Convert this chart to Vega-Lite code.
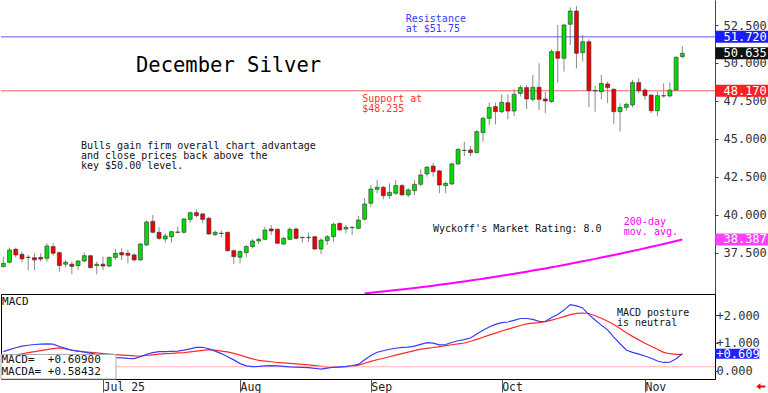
{
"$schema":"https://vega.github.io/schema/vega-lite/v6.json",
"padding":0,
"background":"white",
"bounds":"flush",
"config":{"view":{"stroke":null},"text":{"font":"DejaVu Sans Mono"},"axis":{"labelFont":"DejaVu Sans Mono"}},
"spacing":0,
"datasets":{"c":[
{"i":0,"o":36.60,"h":37.26,"l":36.56,"c":36.82,"m":0.687,"s":0.489},
{"i":1,"o":36.89,"h":37.85,"l":36.82,"c":37.70,"m":0.759,"s":0.529},
{"i":2,"o":37.74,"h":37.85,"l":37.19,"c":37.37,"m":0.824,"s":0.568},
{"i":3,"o":37.41,"h":37.59,"l":36.89,"c":37.11,"m":0.885,"s":0.608},
{"i":4,"o":37.22,"h":37.37,"l":36.38,"c":37.20,"m":0.914,"s":0.647},
{"i":5,"o":37.19,"h":37.48,"l":36.38,"c":37.04,"m":0.942,"s":0.683},
{"i":6,"o":37.21,"h":37.48,"l":36.93,"c":37.10,"m":0.957,"s":0.719},
{"i":7,"o":37.15,"h":38.14,"l":36.93,"c":37.96,"m":0.968,"s":0.755},
{"i":8,"o":37.92,"h":38.14,"l":37.32,"c":37.48,"m":0.953,"s":0.795},
{"i":9,"o":37.52,"h":37.59,"l":36.27,"c":36.67,"m":0.871,"s":0.817},
{"i":10,"o":36.76,"h":37.04,"l":36.56,"c":36.89,"m":0.802,"s":0.781},
{"i":11,"o":36.76,"h":36.93,"l":36.10,"c":36.62,"m":0.734,"s":0.741},
{"i":12,"o":36.67,"h":37.04,"l":36.38,"c":36.97,"m":0.701,"s":0.705},
{"i":13,"o":36.97,"h":37.52,"l":36.89,"c":37.32,"m":0.669,"s":0.680},
{"i":14,"o":37.32,"h":37.37,"l":36.49,"c":36.53,"m":0.629,"s":0.658},
{"i":15,"o":36.67,"h":36.93,"l":36.10,"c":36.76,"m":0.583,"s":0.637},
{"i":16,"o":36.76,"h":37.26,"l":36.38,"c":36.64,"m":0.540,"s":0.615},
{"i":17,"o":36.64,"h":37.26,"l":36.56,"c":37.21,"m":0.507,"s":0.594},
{"i":18,"o":37.21,"h":37.76,"l":37.04,"c":37.48,"m":0.471,"s":0.576},
{"i":19,"o":37.52,"h":37.81,"l":37.04,"c":37.37,"m":0.457,"s":0.561},
{"i":20,"o":37.48,"h":37.70,"l":36.82,"c":37.35,"m":0.442,"s":0.547},
{"i":21,"o":37.37,"h":37.48,"l":36.93,"c":37.04,"m":0.432,"s":0.532},
{"i":22,"o":37.04,"h":38.14,"l":36.99,"c":38.09,"m":0.500,"s":0.525},
{"i":23,"o":38.03,"h":39.63,"l":37.96,"c":39.54,"m":0.590,"s":0.550},
{"i":24,"o":39.58,"h":40.00,"l":38.79,"c":38.86,"m":0.651,"s":0.572},
{"i":25,"o":38.86,"h":39.19,"l":38.35,"c":38.46,"m":0.683,"s":0.597},
{"i":26,"o":38.42,"h":38.79,"l":38.18,"c":38.62,"m":0.687,"s":0.612},
{"i":27,"o":38.57,"h":38.97,"l":38.18,"c":38.90,"m":0.694,"s":0.622},
{"i":28,"o":38.88,"h":39.23,"l":38.79,"c":38.86,"m":0.701,"s":0.637},
{"i":29,"o":38.86,"h":39.78,"l":38.79,"c":39.74,"m":0.737,"s":0.651},
{"i":30,"o":39.71,"h":40.22,"l":39.50,"c":40.15,"m":0.784,"s":0.676},
{"i":31,"o":40.15,"h":40.37,"l":39.85,"c":39.96,"m":0.835,"s":0.705},
{"i":32,"o":40.07,"h":40.11,"l":39.45,"c":39.71,"m":0.842,"s":0.730},
{"i":33,"o":39.78,"h":39.89,"l":38.68,"c":38.75,"m":0.788,"s":0.759},
{"i":34,"o":38.71,"h":38.97,"l":38.62,"c":38.86,"m":0.705,"s":0.737},
{"i":35,"o":38.78,"h":38.97,"l":38.53,"c":38.80,"m":0.615,"s":0.705},
{"i":36,"o":38.86,"h":38.90,"l":37.59,"c":37.65,"m":0.504,"s":0.676},
{"i":37,"o":37.65,"h":37.74,"l":36.78,"c":37.26,"m":0.388,"s":0.622},
{"i":38,"o":37.22,"h":37.70,"l":36.82,"c":37.59,"m":0.255,"s":0.558},
{"i":39,"o":37.52,"h":38.03,"l":37.22,"c":37.92,"m":0.173,"s":0.489},
{"i":40,"o":37.92,"h":38.40,"l":37.81,"c":38.29,"m":0.144,"s":0.424},
{"i":41,"o":38.29,"h":38.53,"l":38.09,"c":38.40,"m":0.155,"s":0.371},
{"i":42,"o":38.40,"h":39.23,"l":38.35,"c":39.01,"m":0.173,"s":0.345},
{"i":43,"o":39.08,"h":39.34,"l":38.68,"c":38.95,"m":0.183,"s":0.320},
{"i":44,"o":39.06,"h":39.12,"l":38.09,"c":38.14,"m":0.169,"s":0.295},
{"i":45,"o":38.09,"h":38.57,"l":38.03,"c":38.46,"m":0.158,"s":0.277},
{"i":46,"o":38.40,"h":39.17,"l":38.35,"c":39.06,"m":0.140,"s":0.259},
{"i":47,"o":39.08,"h":39.17,"l":38.40,"c":38.46,"m":0.129,"s":0.245},
{"i":48,"o":38.53,"h":38.57,"l":38.18,"c":38.51,"m":0.119,"s":0.227},
{"i":49,"o":38.51,"h":38.84,"l":38.25,"c":38.53,"m":0.108,"s":0.205},
{"i":50,"o":38.57,"h":38.62,"l":37.70,"c":37.76,"m":0.086,"s":0.180},
{"i":51,"o":37.76,"h":38.46,"l":37.43,"c":38.35,"m":0.058,"s":0.155},
{"i":52,"o":38.31,"h":38.68,"l":38.03,"c":38.57,"m":0.094,"s":0.133},
{"i":53,"o":38.57,"h":39.50,"l":38.25,"c":39.39,"m":0.122,"s":0.129},
{"i":54,"o":39.45,"h":39.50,"l":38.97,"c":39.01,"m":0.137,"s":0.129},
{"i":55,"o":39.08,"h":39.34,"l":38.79,"c":39.19,"m":0.155,"s":0.144},
{"i":56,"o":39.19,"h":39.23,"l":38.68,"c":39.17,"m":0.187,"s":0.155},
{"i":57,"o":39.12,"h":39.94,"l":39.06,"c":39.67,"m":0.227,"s":0.201},
{"i":58,"o":39.72,"h":41.10,"l":39.63,"c":40.72,"m":0.396,"s":0.266,"ma":34.84},
{"i":59,"o":40.77,"h":41.97,"l":40.55,"c":41.71,"m":0.543,"s":0.335,"ma":34.885},
{"i":60,"o":41.69,"h":42.30,"l":41.43,"c":41.82,"m":0.662,"s":0.392,"ma":34.926},
{"i":61,"o":41.82,"h":41.91,"l":41.03,"c":41.27,"m":0.716,"s":0.446,"ma":34.968},
{"i":62,"o":41.27,"h":42.08,"l":41.05,"c":41.49,"m":0.770,"s":0.500,"ma":35.012},
{"i":63,"o":41.43,"h":42.30,"l":41.32,"c":41.93,"m":0.806,"s":0.558,"ma":35.057},
{"i":64,"o":41.93,"h":42.04,"l":41.27,"c":41.32,"m":0.835,"s":0.612,"ma":35.103},
{"i":65,"o":41.32,"h":41.76,"l":41.16,"c":41.65,"m":0.849,"s":0.669,"ma":35.150},
{"i":66,"o":41.60,"h":42.30,"l":41.32,"c":42.02,"m":0.885,"s":0.723,"ma":35.198},
{"i":67,"o":42.02,"h":43.00,"l":41.91,"c":42.63,"m":0.946,"s":0.773,"ma":35.248},
{"i":68,"o":42.70,"h":43.22,"l":42.52,"c":43.14,"m":1.007,"s":0.802,"ma":35.299},
{"i":69,"o":43.22,"h":43.44,"l":42.52,"c":42.85,"m":0.989,"s":0.835,"ma":35.350},
{"i":70,"o":42.90,"h":42.96,"l":41.43,"c":41.97,"m":0.932,"s":0.867,"ma":35.403},
{"i":71,"o":41.93,"h":42.19,"l":41.43,"c":42.08,"m":0.942,"s":0.899,"ma":35.458},
{"i":72,"o":42.04,"h":43.44,"l":41.97,"c":43.36,"m":1.014,"s":0.932,"ma":35.513},
{"i":73,"o":43.36,"h":44.39,"l":43.29,"c":44.32,"m":1.076,"s":0.964,"ma":35.570},
{"i":74,"o":44.26,"h":44.82,"l":43.88,"c":44.24,"m":1.115,"s":0.996,"ma":35.627},
{"i":75,"o":44.28,"h":44.54,"l":43.88,"c":44.10,"m":1.176,"s":1.058,"ma":35.686},
{"i":76,"o":44.10,"h":45.59,"l":44.06,"c":45.48,"m":1.324,"s":1.129,"ma":35.746},
{"i":77,"o":45.42,"h":46.47,"l":44.82,"c":46.36,"m":1.453,"s":1.205,"ma":35.808},
{"i":78,"o":46.36,"h":47.39,"l":45.92,"c":47.08,"m":1.572,"s":1.277,"ma":35.870},
{"i":79,"o":47.13,"h":47.39,"l":45.96,"c":46.80,"m":1.665,"s":1.353,"ma":35.934},
{"i":80,"o":46.80,"h":47.94,"l":46.69,"c":47.41,"m":1.730,"s":1.428,"ma":35.999},
{"i":81,"o":47.39,"h":47.94,"l":46.30,"c":46.84,"m":1.752,"s":1.496,"ma":36.065},
{"i":82,"o":46.84,"h":48.27,"l":46.51,"c":47.94,"m":1.813,"s":1.561,"ma":36.132},
{"i":83,"o":48.00,"h":48.55,"l":47.79,"c":48.38,"m":1.878,"s":1.626,"ma":36.200},
{"i":84,"o":48.38,"h":48.55,"l":46.97,"c":47.63,"m":1.878,"s":1.687,"ma":36.269},
{"i":85,"o":47.61,"h":49.21,"l":47.46,"c":48.40,"m":1.845,"s":1.709,"ma":36.340},
{"i":86,"o":48.40,"h":49.98,"l":46.91,"c":47.61,"m":1.773,"s":1.730,"ma":36.412},
{"i":87,"o":47.63,"h":48.11,"l":46.69,"c":47.50,"m":1.770,"s":1.763,"ma":36.485},
{"i":88,"o":47.46,"h":50.90,"l":47.39,"c":50.75,"m":1.914,"s":1.820,"ma":36.559},
{"i":89,"o":50.75,"h":52.50,"l":48.71,"c":50.31,"m":2.022,"s":1.878,"ma":36.635},
{"i":90,"o":50.31,"h":52.56,"l":49.43,"c":52.50,"m":2.180,"s":1.946,"ma":36.711},
{"i":91,"o":52.55,"h":53.66,"l":51.18,"c":53.42,"m":2.378,"s":2.018,"ma":36.789},
{"i":92,"o":53.42,"h":53.75,"l":49.65,"c":50.64,"m":2.331,"s":2.061,"ma":36.868},
{"i":93,"o":50.68,"h":51.84,"l":50.09,"c":51.40,"m":2.259,"s":2.076,"ma":36.948},
{"i":94,"o":51.40,"h":51.56,"l":47.08,"c":48.18,"m":2.018,"s":2.058,"ma":37.029},
{"i":95,"o":48.16,"h":48.49,"l":46.80,"c":48.19,"m":1.824,"s":1.975,"ma":37.111},
{"i":96,"o":48.11,"h":49.21,"l":47.61,"c":48.66,"m":1.640,"s":1.888,"ma":37.195},
{"i":97,"o":48.62,"h":48.77,"l":47.35,"c":48.38,"m":1.468,"s":1.777,"ma":37.280},
{"i":98,"o":48.27,"h":48.33,"l":45.99,"c":46.80,"m":1.209,"s":1.665,"ma":37.365},
{"i":99,"o":46.80,"h":47.35,"l":45.48,"c":47.08,"m":0.968,"s":1.518,"ma":37.453},
{"i":100,"o":47.08,"h":47.39,"l":46.86,"c":47.28,"m":0.745,"s":1.367,"ma":37.541},
{"i":101,"o":47.24,"h":48.88,"l":47.08,"c":48.71,"m":0.658,"s":1.234,"ma":37.630},
{"i":102,"o":48.71,"h":48.99,"l":48.00,"c":48.18,"m":0.597,"s":1.108,"ma":37.721},
{"i":103,"o":48.22,"h":48.33,"l":47.57,"c":47.85,"m":0.529,"s":0.989,"ma":37.813},
{"i":104,"o":47.89,"h":47.94,"l":46.69,"c":46.86,"m":0.446,"s":0.878,"ma":37.906},
{"i":105,"o":46.86,"h":48.11,"l":46.51,"c":47.85,"m":0.349,"s":0.770,"ma":38.000},
{"i":106,"o":47.85,"h":48.66,"l":47.72,"c":47.83,"m":0.295,"s":0.660,"ma":38.095},
{"i":107,"o":47.83,"h":48.71,"l":47.74,"c":48.22,"m":0.302,"s":0.610,"ma":38.191},
{"i":108,"o":48.22,"h":50.46,"l":48.16,"c":50.37,"m":0.432,"s":0.590,"ma":38.289},
{"i":109,"o":50.42,"h":51.12,"l":50.31,"c":50.635,"m":0.609,"s":0.584,"ma":38.387}
]},
"vconcat":[
{
"width":714,"height":294,
"view":{"stroke":null},
"data":{"name":"c"},
"layer":[
{"mark":{"type":"rule","color":"#8a8a8a","strokeWidth":1,"clip":true},
 "encoding":{
  "x":{"field":"i","type":"quantitative","scale":{"domain":[-0.37,114.24],"nice":false,"zero":false,"padding":0},"axis":null,"title":null},
  "y":{"field":"l","type":"quantitative","scale":{"domain":[34.8,54.145],"nice":false,"zero":false,"padding":0},"title":null,
   "axis":{"orient":"right","values":[37.5,40,42.5,45,47.5,50,52.5],"format":".3f","tickSize":3,"tickColor":"#444","domainColor":"#444","labelPadding":5,"labelFontSize":12,"labelColor":"#333","grid":false,"labelOverlap":false,"labelFlush":false,"title":null}},
  "y2":{"field":"h"}}},
{"data":{"values":[{}]},"mark":{"type":"rule","color":"#5a5aff","strokeWidth":1},"encoding":{"y":{"datum":51.72,"type":"quantitative","scale":{"domain":[34.8,54.145],"nice":false,"zero":false,"padding":0},"title":null}}},
{"data":{"values":[{}]},"mark":{"type":"rule","color":"#ff6060","strokeWidth":1},"encoding":{"y":{"datum":48.17,"type":"quantitative","scale":{"domain":[34.8,54.145],"nice":false,"zero":false,"padding":0},"title":null}}},
{"mark":{"type":"bar","size":4,"stroke":"#333","strokeWidth":0.6,"clip":true},
 "encoding":{
  "x":{"field":"i","type":"quantitative","scale":{"domain":[-0.37,114.24],"nice":false,"zero":false,"padding":0},"title":null},
  "y":{"field":"o","type":"quantitative","scale":{"domain":[34.8,54.145],"nice":false,"zero":false,"padding":0},"title":null},
  "y2":{"field":"c"},
  "color":{"condition":{"test":"datum.c >= datum.o","value":"#00dd00"},"value":"#ee0000"}}},
{"transform":[{"filter":"isValid(datum.ma)"}],"mark":{"type":"line","color":"#ff00ff","strokeWidth":2,"clip":true},
 "encoding":{"x":{"field":"i","type":"quantitative","scale":{"domain":[-0.37,114.24],"nice":false,"zero":false,"padding":0},"title":null},"y":{"field":"ma","type":"quantitative","scale":{"domain":[34.8,54.145],"nice":false,"zero":false,"padding":0},"title":null}}},
{"data":{"values":[{"i":21.3,"p":49.8,"t":"December Silver"}]},
 "mark":{"type":"text","align":"left","baseline":"middle","fontSize":20.5,"color":"#000"},
 "encoding":{"x":{"field":"i","type":"quantitative","scale":{"domain":[-0.37,114.24],"nice":false,"zero":false,"padding":0},"title":null},"y":{"field":"p","type":"quantitative","scale":{"domain":[34.8,54.145],"nice":false,"zero":false,"padding":0},"title":null},"text":{"field":"t"}}},
{"data":{"values":[
  {"i":12.47,"p":44.57,"t":"Bulls gain firm overall chart advantage"},
  {"i":12.47,"p":43.88,"t":"and close prices back above the"},
  {"i":12.47,"p":43.19,"t":"key $50.00 level."},
  {"i":68.97,"p":39.08,"t":"Wyckoff's Market Rating: 8.0"}]},
 "mark":{"type":"text","align":"left","baseline":"middle","fontSize":10,"color":"#111"},
 "encoding":{"x":{"field":"i","type":"quantitative","scale":{"domain":[-0.37,114.24],"nice":false,"zero":false,"padding":0},"title":null},"y":{"field":"p","type":"quantitative","scale":{"domain":[34.8,54.145],"nice":false,"zero":false,"padding":0},"title":null},"text":{"field":"t"}}},
{"data":{"values":[{"i":64.6,"p":52.91,"t":"Resistance"},{"i":64.6,"p":52.22,"t":"at $51.75"}]},
 "mark":{"type":"text","align":"left","baseline":"middle","fontSize":10,"color":"#2f3cff"},
 "encoding":{"x":{"field":"i","type":"quantitative","scale":{"domain":[-0.37,114.24],"nice":false,"zero":false,"padding":0},"title":null},"y":{"field":"p","type":"quantitative","scale":{"domain":[34.8,54.145],"nice":false,"zero":false,"padding":0},"title":null},"text":{"field":"t"}}},
{"data":{"values":[{"i":57.6,"p":47.65,"t":"Support at"},{"i":57.6,"p":46.96,"t":"$48.235"}]},
 "mark":{"type":"text","align":"left","baseline":"middle","fontSize":10,"color":"#ff3030"},
 "encoding":{"x":{"field":"i","type":"quantitative","scale":{"domain":[-0.37,114.24],"nice":false,"zero":false,"padding":0},"title":null},"y":{"field":"p","type":"quantitative","scale":{"domain":[34.8,54.145],"nice":false,"zero":false,"padding":0},"title":null},"text":{"field":"t"}}},
{"data":{"values":[{"i":99.6,"p":39.56,"t":"200-day"},{"i":99.6,"p":38.87,"t":"mov. avg."}]},
 "mark":{"type":"text","align":"left","baseline":"middle","fontSize":10,"color":"#ff00ff"},
 "encoding":{"x":{"field":"i","type":"quantitative","scale":{"domain":[-0.37,114.24],"nice":false,"zero":false,"padding":0},"title":null},"y":{"field":"p","type":"quantitative","scale":{"domain":[34.8,54.145],"nice":false,"zero":false,"padding":0},"title":null},"text":{"field":"t"}}},
{"data":{"values":[{"v":51.72,"lab":"51.720","kind":"resistance"},{"v":50.635,"lab":"50.635","kind":"last"},{"v":48.17,"lab":"48.170","kind":"support"},{"v":38.387,"lab":"38.387","kind":"average"}]},
 "mark":{"type":"bar","size":12,"clip":false},
 "encoding":{"x":{"datum":114.3,"type":"quantitative","scale":{"domain":[-0.37,114.24],"nice":false,"zero":false,"padding":0},"title":null},"x2":{"datum":122.9},"y":{"field":"v","type":"quantitative","scale":{"domain":[34.8,54.145],"nice":false,"zero":false,"padding":0},"title":null},
  "color":{"field":"kind","type":"nominal","legend":null,"scale":{"domain":["resistance","last","support","average"],"range":["#1c1cff","#111111","#ff2020","#ff40ff"]}}}},
{"data":{"values":[{"v":51.72,"lab":"51.720"},{"v":50.635,"lab":"50.635"},{"v":48.17,"lab":"48.170"},{"v":38.387,"lab":"38.387"}]},
 "mark":{"type":"text","align":"left","baseline":"middle","fontSize":12,"color":"#ffffff","clip":false},
 "encoding":{"x":{"datum":115.6,"type":"quantitative","scale":{"domain":[-0.37,114.24],"nice":false,"zero":false,"padding":0},"title":null},"y":{"field":"v","type":"quantitative","scale":{"domain":[34.8,54.145],"nice":false,"zero":false,"padding":0},"title":null},"text":{"field":"lab"}}}
]
},
{
"width":714,"height":85,
"view":{"stroke":"#000","strokeWidth":1},
"data":{"name":"c"},
"layer":[
{"mark":{"type":"line","color":"#ff2a2a","strokeWidth":1.2,"clip":true},
 "encoding":{
  "x":{"field":"i","type":"quantitative","scale":{"domain":[-0.37,114.24],"nice":false,"zero":false,"padding":0},"title":null,
   "axis":{"orient":"bottom","values":[16,38,59,80,103],"labelExpr":"datum.value==16?'Jul 25':datum.value==38?'Aug':datum.value==59?'Sep':datum.value==80?'Oct':'Nov'","tickSize":13,"tickColor":"#555","labelAlign":"left","labelBaseline":"top","labelPadding":-11,"labelDx":2,"labelFontSize":11.5,"labelColor":"#222","domain":false,"grid":false,"labelFlush":false,"labelOverlap":false,"title":null}},
  "y":{"field":"s","type":"quantitative","scale":{"domain":[-0.3,2.76],"nice":false,"zero":false,"padding":0},"title":null,
   "axis":{"orient":"right","values":[0,1,2],"labelExpr":"datum.value==0?'\u20070.000':'+'+format(datum.value,'.3f')","tickSize":3,"tickColor":"#444","labelPadding":-2,"labelFontSize":12,"labelColor":"#333","domain":false,"grid":false,"labelOverlap":false,"labelFlush":false,"title":null}}}},
{"data":{"values":[{}]},"mark":{"type":"rule","color":"#ffb0b0","strokeWidth":1},"encoding":{"y":{"datum":0.14,"type":"quantitative","scale":{"domain":[-0.3,2.76],"nice":false,"zero":false,"padding":0},"title":null}}},
{"mark":{"type":"line","color":"#3a3aff","strokeWidth":1.2,"clip":true},
 "encoding":{"x":{"field":"i","type":"quantitative","scale":{"domain":[-0.37,114.24],"nice":false,"zero":false,"padding":0},"title":null},"y":{"field":"m","type":"quantitative","scale":{"domain":[-0.3,2.76],"nice":false,"zero":false,"padding":0},"title":null}}},
{"data":{"values":[{}]},"mark":{"type":"rect","fill":"#ffffff","stroke":"#aaaaaa","strokeWidth":1},
 "encoding":{"x":{"datum":-0.37,"type":"quantitative","scale":{"domain":[-0.37,114.24],"nice":false,"zero":false,"padding":0},"title":null},"x2":{"datum":18.09},"y":{"datum":0.583,"type":"quantitative","scale":{"domain":[-0.3,2.76],"nice":false,"zero":false,"padding":0},"title":null},"y2":{"datum":-0.3}}},
{"data":{"values":[{"i":-0.3,"v":0.392,"t":"MACD=\u00a0\u00a0+0.60900"},{"i":-0.3,"v":-0.03,"t":"MACDA=\u00a0+0.58432"},{"i":-0.2,"v":2.48,"t":"MACD"}]},
 "mark":{"type":"text","align":"left","baseline":"middle","fontSize":11,"color":"#111"},
 "encoding":{"x":{"field":"i","type":"quantitative","scale":{"domain":[-0.37,114.24],"nice":false,"zero":false,"padding":0},"title":null},"y":{"field":"v","type":"quantitative","scale":{"domain":[-0.3,2.76],"nice":false,"zero":false,"padding":0},"title":null},"text":{"field":"t"}}},
{"data":{"values":[{"i":98.5,"v":2.077,"t":"MACD posture"},{"i":98.5,"v":1.70,"t":"is neutral"}]},
 "mark":{"type":"text","align":"left","baseline":"middle","fontSize":10,"color":"#111"},
 "encoding":{"x":{"field":"i","type":"quantitative","scale":{"domain":[-0.37,114.24],"nice":false,"zero":false,"padding":0},"title":null},"y":{"field":"v","type":"quantitative","scale":{"domain":[-0.3,2.76],"nice":false,"zero":false,"padding":0},"title":null},"text":{"field":"t"}}},
{"data":{"values":[{"v":0.609,"lab":"+0.609"}]},
 "mark":{"type":"bar","size":10,"color":"#2020ff","clip":false},
 "encoding":{"x":{"datum":114.28,"type":"quantitative","scale":{"domain":[-0.37,114.24],"nice":false,"zero":false,"padding":0},"title":null},"x2":{"datum":121.35},"y":{"field":"v","type":"quantitative","scale":{"domain":[-0.3,2.76],"nice":false,"zero":false,"padding":0},"title":null}}},
{"data":{"values":[{"v":0.609,"lab":"+0.609"}]},
 "mark":{"type":"text","align":"left","baseline":"middle","fontSize":12,"color":"#ffffff","clip":false},
 "encoding":{"x":{"datum":114.45,"type":"quantitative","scale":{"domain":[-0.37,114.24],"nice":false,"zero":false,"padding":0},"title":null},"y":{"field":"v","type":"quantitative","scale":{"domain":[-0.3,2.76],"nice":false,"zero":false,"padding":0},"title":null},"text":{"field":"lab"}}},
{"data":{"values":[{}]},
 "mark":{"type":"point","shape":"M-1,0L-0.1,-0.7L-0.1,-0.25L1,-0.25L1,0.25L-0.1,0.25L-0.1,0.7Z","filled":true,"color":"#ee0000","size":80,"opacity":1,"clip":false},
 "encoding":{"x":{"datum":121.6,"type":"quantitative","scale":{"domain":[-0.37,114.24],"nice":false,"zero":false,"padding":0},"title":null},"y":{"datum":-0.57,"type":"quantitative","scale":{"domain":[-0.3,2.76],"nice":false,"zero":false,"padding":0},"title":null}}}
]
}
]
}
